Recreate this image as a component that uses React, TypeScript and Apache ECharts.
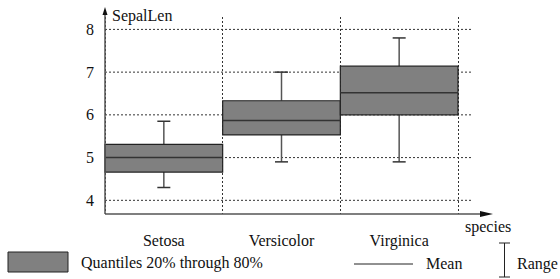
import React, { useEffect, useRef } from 'react';
import * as echarts from 'echarts';

const CATEGORIES = ['Setosa', 'Versicolor', 'Virginica'];
const MINS = [4.3, 4.9, 4.9];
const Q20 = [4.66, 5.53, 6.0];
const MEANS = [5.0, 5.87, 6.52];
const Q80 = [5.31, 6.33, 7.14];
const MAXS = [5.85, 7.0, 7.8];
const Y_TICKS = [4, 5, 6, 7, 8];
const Y_MIN = 3.68;
const Y_MAX = 8.29;

const FONT = 'Liberation Serif';
const TXT = '#111';

export default function App() {
  const ref = useRef<HTMLDivElement>(null);
  useEffect(() => {
    if (!ref.current) return;
    const chart = echarts.init(ref.current, null, { renderer: 'svg' });
    const boxData = CATEGORIES.map((_, i) => [i, MINS[i], Q20[i], MEANS[i], Q80[i], MAXS[i]]);
    const textStyle = (text: string) => ({ text, fontFamily: FONT, fontSize: 16, fill: TXT });
    const option: any = {
      animation: false,
      textStyle: { fontFamily: FONT, fontSize: 16 },
      grid: { left: 105, right: 102, top: 17, bottom: 65 },
      xAxis: {
        type: 'category',
        data: CATEGORIES,
        boundaryGap: true,
        axisLine: { show: false },
        axisTick: { show: false },
        axisLabel: { margin: 18, fontFamily: FONT, fontSize: 16, color: TXT },
        splitLine: { show: true, lineStyle: { color: '#333', width: 1, type: [2, 2] } },
      },
      yAxis: {
        type: 'value',
        min: Y_MIN,
        max: Y_MAX,
        axisLine: { show: false },
        axisTick: { show: false },
        splitLine: { show: false },
        axisLabel: {
          margin: 11,
          fontFamily: FONT,
          fontSize: 16,
          color: TXT,
          formatter: (v: number) => (Y_TICKS.indexOf(Math.round(v * 1000) / 1000) >= 0 ? String(v) : ''),
        },
      },
      series: [
        {
          type: 'custom',
          z: 1,
          silent: true,
          data: [[0, Y_MIN]],
          renderItem: (params: any, api: any) => {
            const cs = params.coordSys;
            const left = cs.x;
            const right = cs.x + cs.width;
            const children: any[] = [];
            Y_TICKS.forEach((t) => {
              const p = api.coord([0, t]);
              children.push({
                type: 'line',
                shape: { x1: left, y1: p[1], x2: right + 13, y2: p[1] },
                style: { stroke: '#333', lineWidth: 1, lineDash: [2, 2] },
              });
            });
            return { type: 'group', children };
          },
        },
        {
          type: 'custom',
          z: 3,
          silent: true,
          data: boxData,
          renderItem: (params: any, api: any) => {
            const x = api.value(0);
            const bw = api.size([1, 0])[0];
            const pMin = api.coord([x, api.value(1)]);
            const pLo = api.coord([x, api.value(2)]);
            const pMean = api.coord([x, api.value(3)]);
            const pHi = api.coord([x, api.value(4)]);
            const pMax = api.coord([x, api.value(5)]);
            const cx = pMin[0];
            const capW = 6.5;
            const wStyle = { stroke: '#555', lineWidth: 1.5 };
            const cStyle = { stroke: '#333', lineWidth: 1.5 };
            return {
              type: 'group',
              children: [
                { type: 'line', shape: { x1: cx, y1: pMax[1], x2: cx, y2: pHi[1] }, style: wStyle },
                { type: 'line', shape: { x1: cx, y1: pLo[1], x2: cx, y2: pMin[1] }, style: wStyle },
                { type: 'line', shape: { x1: cx - capW, y1: pMax[1], x2: cx + capW, y2: pMax[1] }, style: cStyle },
                { type: 'line', shape: { x1: cx - capW, y1: pMin[1], x2: cx + capW, y2: pMin[1] }, style: cStyle },
                {
                  type: 'rect',
                  shape: { x: cx - bw / 2, y: pHi[1], width: bw, height: pLo[1] - pHi[1] },
                  style: { fill: '#808080', stroke: '#222', lineWidth: 1.2 },
                },
                {
                  type: 'line',
                  shape: { x1: cx - bw / 2, y1: pMean[1], x2: cx + bw / 2, y2: pMean[1] },
                  style: { stroke: '#333', lineWidth: 1.5 },
                },
              ],
            };
          },
        },
        {
          type: 'custom',
          z: 5,
          silent: true,
          data: [[0, Y_MIN]],
          renderItem: (params: any) => {
            const cs = params.coordSys;
            const left = cs.x;
            const right = cs.x + cs.width;
            const top = cs.y;
            const bottom = cs.y + cs.height;
            return {
              type: 'group',
              children: [
                { type: 'line', shape: { x1: left, y1: bottom, x2: right + 24, y2: bottom }, style: { stroke: '#555', lineWidth: 1.5 } },
                {
                  type: 'polygon',
                  shape: { points: [[right + 35, bottom], [right + 22, bottom - 3], [right + 22, bottom + 3]] },
                  style: { fill: '#111' },
                },
                { type: 'line', shape: { x1: left, y1: bottom, x2: left, y2: top - 3 }, style: { stroke: '#555', lineWidth: 1.5 } },
                {
                  type: 'polygon',
                  shape: { points: [[left, top - 10], [left - 2.5, top - 2], [left + 2.5, top - 2]] },
                  style: { fill: '#111' },
                },
              ],
            };
          },
        },
      ],
      graphic: [
        { type: 'text', left: 112, top: 7, style: textStyle('SepalLen') },
        { type: 'text', left: 465, top: 218, style: textStyle('species') },
        { type: 'rect', shape: { x: 8, y: 252, width: 60, height: 20 }, style: { fill: '#808080', stroke: '#222', lineWidth: 1 } },
        { type: 'text', left: 81, top: 254, style: textStyle('Quantiles 20% through 80%') },
        { type: 'line', shape: { x1: 354, y1: 264, x2: 413, y2: 264 }, style: { stroke: '#222', lineWidth: 1 } },
        { type: 'text', left: 426, top: 255, style: textStyle('Mean') },
        { type: 'line', shape: { x1: 504.5, y1: 243, x2: 504.5, y2: 277 }, style: { stroke: '#222', lineWidth: 1 } },
        { type: 'line', shape: { x1: 499, y1: 243, x2: 510, y2: 243 }, style: { stroke: '#222', lineWidth: 1 } },
        { type: 'line', shape: { x1: 499, y1: 277, x2: 510, y2: 277 }, style: { stroke: '#222', lineWidth: 1 } },
        { type: 'text', left: 517, top: 255, style: textStyle('Range') },
      ],
    };
    chart.setOption(option);
    return () => chart.dispose();
  }, []);
  return (
    <div style={{ fontFamily: 'Liberation Serif' }}>
      <div ref={ref} style={{ width: 560, height: 279, position: 'absolute', left: 0, top: 0 }} />
    </div>
  );
}
